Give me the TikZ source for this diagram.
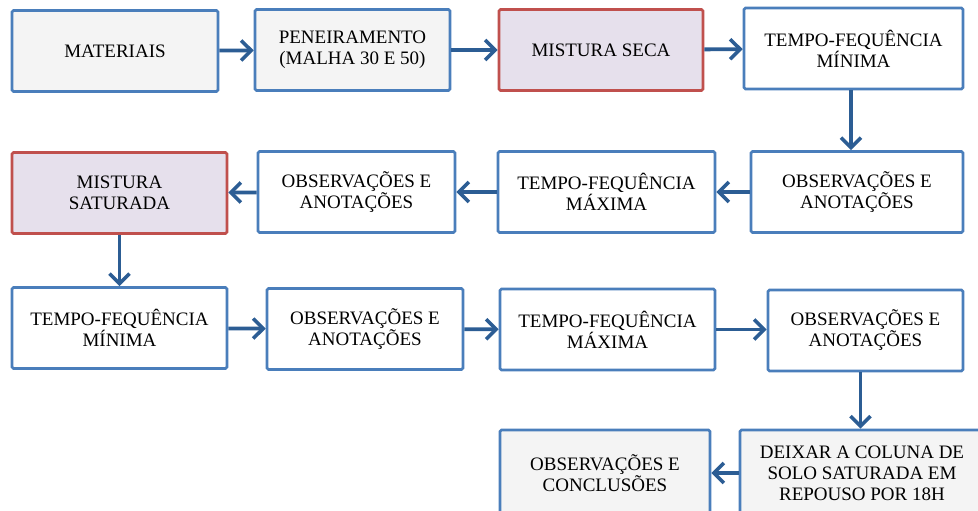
\documentclass[tikz,border=0pt]{standalone}
\usepackage{fontspec}
\setmainfont{Liberation Serif}
\usetikzlibrary{arrows.meta}
\definecolor{boxblue}{HTML}{4A7EBB}
\definecolor{boxred}{HTML}{C0504D}
\definecolor{lavfill}{HTML}{E6E0EC}
\definecolor{grayfill}{HTML}{F4F4F4}
\definecolor{arrowblue}{HTML}{2C5D94}
\begin{document}
\begin{tikzpicture}[x=1pt, y=-1pt,
    stepbox/.style={draw=boxblue, line width=2.6pt, rounded corners=1.5pt, fill=white,
      align=center, inner sep=2pt, font=\fontsize{19}{21}\selectfont, minimum height=81pt},
    graybox/.style={stepbox, fill=grayfill},
    redbox/.style={stepbox, draw=boxred, fill=lavfill},
    flow/.style={draw=arrowblue, line width=3.8pt, -{Straight Barb[length=10pt,width=20pt,line width=3.6pt]}}]
      \clip (0,0) rectangle (978,511);
      \fill[white] (0,0) rectangle (978,511);
      % linha 1
      \node[graybox, minimum width=206pt] (mat) at (115,51) {MATERIAIS};
      \node[graybox, minimum width=195pt] (pen) at (352.5,50) {PENEIRAMENTO\\(MALHA 30 E 50)};
      \node[redbox, minimum width=204pt] (seca) at (601,50) {MISTURA SECA};
      \node[stepbox, minimum width=219pt] (tmina) at (853.5,48.5) {TEMPO-FEQUÊNCIA\\MÍNIMA};
      % linha 2
      \node[stepbox, minimum width=212pt] (obsa) at (857,192) {OBSERVAÇÕES E\\ANOTAÇÕES};
      \node[stepbox, minimum width=217pt] (tmaxa) at (606.5,192) {TEMPO-FEQUÊNCIA\\MÁXIMA};
      \node[stepbox, minimum width=197pt] (obsb) at (356.5,192) {OBSERVAÇÕES E\\ANOTAÇÕES};
      \node[redbox, minimum width=215pt] (sat) at (119.5,193) {MISTURA\\SATURADA};
      % linha 3
      \node[stepbox, minimum width=215pt] (tminb) at (119.5,328) {TEMPO-FEQUÊNCIA\\MÍNIMA};
      \node[stepbox, minimum width=196pt] (obsc) at (365,329) {OBSERVAÇÕES E\\ANOTAÇÕES};
      \node[stepbox, minimum width=215pt] (tmaxb) at (607.5,329.5) {TEMPO-FEQUÊNCIA\\MÁXIMA};
      \node[stepbox, minimum width=195pt] (obsd) at (865.5,330.5) {OBSERVAÇÕES E\\ANOTAÇÕES};
      % linha 4
      \node[graybox, minimum width=244pt, minimum height=86pt] (rep) at (862,473) {DEIXAR A COLUNA DE\\SOLO SATURADA EM\\REPOUSO POR 18H};
      \node[graybox, minimum width=210pt, minimum height=86pt] (concl) at (605,473) {OBSERVAÇÕES E\\CONCLUSÕES};
      % setas
      \draw[flow] (mat) -- (pen);
      \draw[flow] (pen) -- (seca);
      \draw[flow] (seca) -- (tmina);
      \draw[flow] (tmina.south -| obsa.north) ++(-6,0) coordinate (ta) (ta) -- (ta |- obsa.north);
      \draw[flow] (obsa) -- (tmaxa);
      \draw[flow] (tmaxa) -- (obsb);
      \draw[flow] (obsb) -- (sat);
      \draw[flow] (sat) -- (tminb);
      \draw[flow] (tminb) -- (obsc);
      \draw[flow] (obsc) -- (tmaxb);
      \draw[flow] (tmaxb.east) -- (tmaxb.east -| obsd.west);
      \draw[flow] (obsd.south) ++(-5,0) coordinate (tb) (tb) -- (tb |- rep.north);
      \draw[flow] (rep) -- (concl);
\end{tikzpicture}
\end{document}
